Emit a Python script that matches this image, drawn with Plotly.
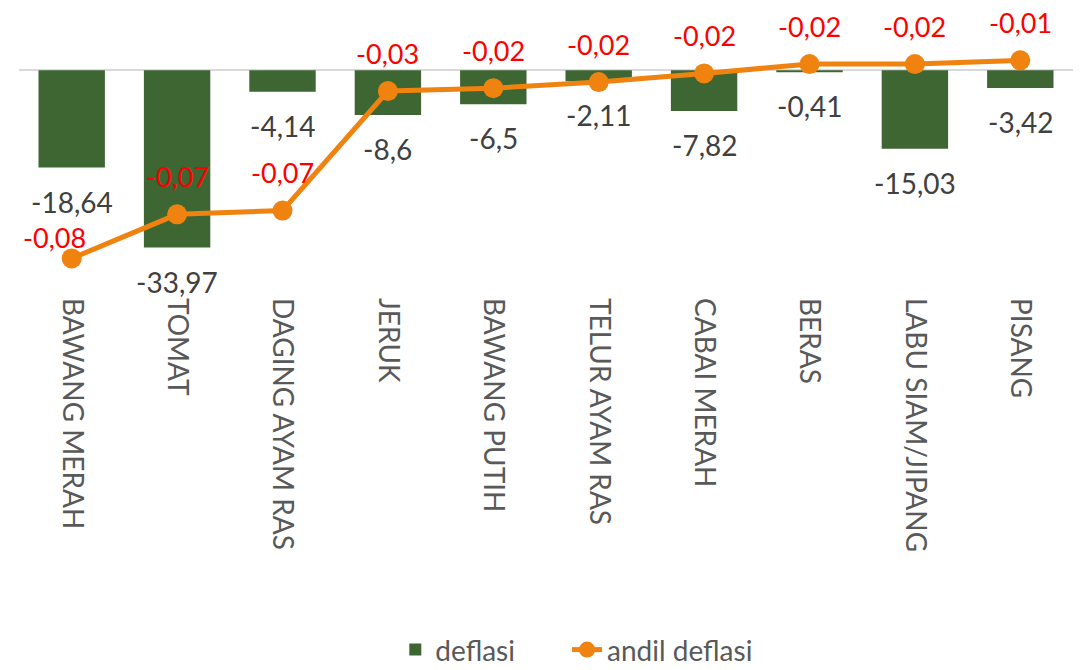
import plotly.graph_objects as go

categories = ["BAWANG MERAH", "TOMAT", "DAGING AYAM RAS", "JERUK", "BAWANG PUTIH",
              "TELUR AYAM RAS", "CABAI MERAH", "BERAS", "LABU SIAM/JIPANG", "PISANG"]
deflasi = [-18.64, -33.97, -4.14, -8.6, -6.5, -2.11, -7.82, -0.41, -15.03, -3.42]
andil_deflasi = [-0.0829, -0.0677, -0.0664, -0.0252, -0.0242, -0.0221, -0.0191, -0.0159, -0.0159, -0.0146]

GREEN = "#3D6633"
ORANGE = "#F0820F"
FONT = "Lato"

def fmt_comma(v, nd=None):
    s = f"{v:.{nd}f}" if nd is not None else f"{v:g}"
    return s.replace(".", ",")

fig = go.Figure()
fig.add_trace(go.Bar(
    x=categories, y=deflasi, name="deflasi",
    marker=dict(color=GREEN, line=dict(width=0)),
    yaxis="y", legend="legend",
))
fig.add_trace(go.Scatter(
    x=categories, y=andil_deflasi, name="andil deflasi",
    mode="lines+markers",
    line=dict(color=ORANGE, width=5),
    marker=dict(color=ORANGE, size=20),
    yaxis="y2", legend="legend2",
))

annotations = []
for c, v in zip(categories, deflasi):
    annotations.append(dict(
        x=c, y=v, xref="x", yref="y", text=fmt_comma(v), showarrow=False,
        yanchor="middle", yshift=-34,
        font=dict(family=FONT, size=28, color="#404040"),
    ))
for i, (c, v) in enumerate(zip(categories, andil_deflasi)):
    xs, ys = (-17, 21) if i == 0 else (0, 38)
    annotations.append(dict(
        x=c, y=v, xref="x", yref="y2", text=fmt_comma(v, 2), showarrow=False,
        yanchor="middle", yshift=ys, xshift=xs,
        font=dict(family=FONT, size=27, color="#FF0000"),
    ))

legend_common = dict(
    orientation="h", xref="container", yref="container",
    xanchor="left", y=0.03, yanchor="middle",
    font=dict(family=FONT, size=28, color="#595959"),
    itemwidth=30, bgcolor="rgba(0,0,0,0)",
)

fig.update_layout(
    width=1089, height=670,
    margin=dict(l=19, r=16, t=18, b=391, autoexpand=False),
    paper_bgcolor="white", plot_bgcolor="white",
    font=dict(family=FONT, size=28, color="#595959"),
    bargap=0.37,
    showlegend=True,
    legend=dict(x=0.363, **legend_common),
    legend2=dict(x=0.5207, **legend_common),
    xaxis=dict(
        range=[-0.5, 9.5], autorange=False,
        tickangle=90, showline=False, showgrid=False, ticks="",
        tickfont=dict(family=FONT, size=28, color="#595959"),
        ticklabelstandoff=18, automargin=False,
    ),
    yaxis=dict(
        range=[-40, 10], autorange=False, showticklabels=False, showgrid=False,
        zeroline=True, zerolinecolor="#D9D9D9", zerolinewidth=2,
        showline=False, ticks="", automargin=False,
    ),
    yaxis2=dict(
        range=[-0.09, 0], autorange=False, overlaying="y", side="right",
        showticklabels=False, showgrid=False, zeroline=False,
        showline=False, ticks="", automargin=False,
    ),
    annotations=annotations,
)

fig.write_html(
    "out.html",
    config={"displayModeBar": False},
    post_script="document.body.style.margin='0';document.body.style.overflow='hidden';",
)
